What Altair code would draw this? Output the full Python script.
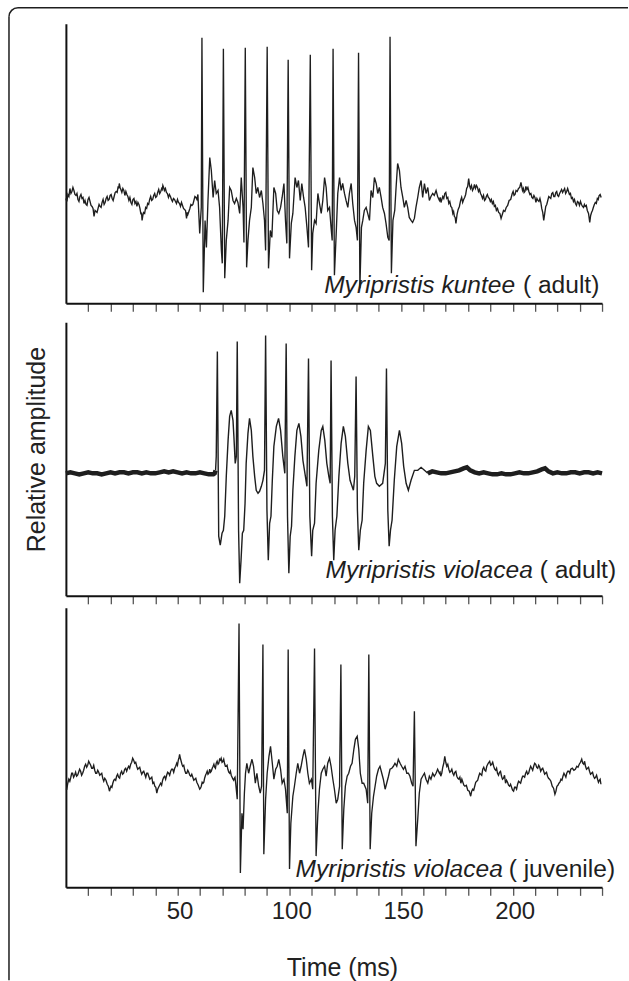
import altair as alt
import pandas as pd

FONT = "Liberation Sans"
INK = "#1e1e1e"

# ---------------- data (time in ms, relative amplitude) ----------------
kuntee_trace = [
    (0.0, 2), (0.9, 6), (1.8, 12), (2.7, 9), (3.6, 10), (4.5, 5), (5.4, 1), (6.3, 4), (7.2, 2), (8.1, -3),
    (9.0, -4), (9.9, 1), (10.8, -1), (11.7, -6), (12.6, -16), (13.5, -11), (14.4, -8), (15.3, -6), (16.2, -2),
    (17.1, -4), (18.0, 2), (18.9, 0), (19.8, 5), (20.7, 2), (21.6, 4), (22.5, 9), (23.4, 14), (23.9, 17),
    (24.6, 11), (25.5, 12), (26.4, 5), (27.3, 6), (28.2, 0), (29.1, -2), (30.0, 1), (30.9, -3), (31.8, -6),
    (32.7, -4), (33.6, -14), (34.1, -20), (34.8, -12), (35.7, -7), (36.6, -3), (37.5, 1), (38.4, 0), (39.3, 5),
    (40.2, 3), (41.1, 8), (42.0, 7), (42.9, 12), (43.4, 15), (44.1, 10), (45.0, 8), (45.9, 3), (46.8, 4),
    (47.7, -1), (48.6, 1), (49.5, -3), (50.4, -2), (51.3, -6), (52.2, -5), (53.1, -9), (54.0, -18), (54.6, -14),
    (55.5, -8), (56.4, -5), (57.3, 0), (58.2, 3), (59.1, 6),
    (59.9, -33), (60.6, -7), (60.9, 163), (61.5, -92), (62.3, -20), (62.9, -47), (63.6, 0), (64.4, 43), (65.1, 30),
    (65.9, 3), (66.6, 20), (67.3, 7), (68.1, 10), (68.8, -7), (69.6, -50), (70.0, -63), (70.5, 152), (71.1, -78),
    (71.8, -40), (72.6, -20), (73.3, 13), (74.0, 10), (74.8, 0), (75.5, -3), (76.3, 2), (77.0, -2), (77.8, -13),
    (78.5, 23), (79.3, -7), (79.7, -42), (80.3, 153), (80.9, -67), (81.5, -40), (82.2, -20), (83.0, -7), (83.7, 33),
    (84.5, 23), (85.2, 7), (85.9, 13), (86.7, 3), (87.5, 10), (88.2, -3), (88.9, -20), (89.4, -50), (90.1, 154),
    (90.7, -68), (91.5, -30), (92.2, -37), (93.1, 13), (93.9, 7), (94.6, -10), (95.3, -13), (96.1, -7), (96.8, 3),
    (97.6, 17), (98.3, -20), (98.9, -43), (99.5, 141), (100.1, -58), (100.9, -23), (101.6, -13), (102.6, 23),
    (103.4, 13), (104.1, 20), (104.9, 0), (105.6, 17), (106.4, 3), (107.1, -7), (107.9, -27), (108.6, -47),
    (109.4, 146), (110.0, -70), (110.5, -33), (111.3, -20), (112.0, -23), (112.8, 7), (113.5, -3), (114.3, -13),
    (115.0, 0), (115.8, 23), (116.5, 13), (117.2, -10), (118.0, -7), (118.7, -27), (119.2, -40), (119.6, 152),
    (120.2, -75), (121.0, -33), (121.7, 7), (122.5, 23), (123.2, 10), (123.9, 17), (124.7, 7), (125.4, 0),
    (126.2, -7), (126.9, 7), (127.7, 17), (128.4, -3), (129.2, -20), (129.9, -27), (130.5, -40), (131.0, 148),
    (131.6, -88), (132.3, -27), (132.9, -20), (133.6, -10), (134.4, -7), (135.1, -13), (135.9, -20), (136.6, 10),
    (137.4, 3), (138.1, 23), (138.9, 17), (139.6, 7), (140.3, 13), (141.1, 3), (141.8, -7), (142.6, -13),
    (143.3, -23), (144.1, -37), (144.7, -40), (145.1, 164), (145.7, -73), (146.4, -20), (147.2, -10), (147.8, 13),
    (148.5, 37), (149.3, 30), (150.0, 13), (150.8, 3), (151.5, -7), (152.3, 0), (153.0, -7), (153.7, -17),
    (154.5, -20), (155.2, -22), (156.0, -18), (156.7, -7), (157.5, 3), (158.2, 13), (159.0, 20), (159.7, 3),
    (160.5, 17), (161.2, 7), (162.0, 13), (162.7, 0), (163.4, 4), (164.2, 7), (164.9, 5), (165.7, 10), (166.4, 4),
    (167.2, 0), (167.9, -2), (168.7, 4), (169.6, 7), (170.5, 2), (171.4, -3), (172.3, -6), (173.2, -13),
    (173.9, -16), (174.6, -23), (175.6, -9), (176.7, 0), (177.6, -2), (178.5, 3), (179.4, 12), (180.3, 22),
    (181.1, 12), (182.0, 10), (182.9, 16), (183.8, 15), (184.7, 9), (185.6, 7), (186.5, 2), (187.4, 0), (188.2, 4),
    (189.1, 3), (190.0, -1), (190.9, -3), (191.8, -6), (192.7, -10), (193.7, -12), (194.8, -18), (195.9, -10),
    (197.1, -7), (198.4, 0), (199.8, 7), (200.6, 5), (201.5, 10), (202.6, 12), (203.7, 18), (204.4, 10),
    (205.1, 8), (205.9, 14), (206.8, 13), (207.7, 6), (208.6, 3), (209.5, 5), (210.4, -2), (211.3, 0), (212.2, 2),
    (213.0, -8), (213.9, -20), (214.8, -6), (215.7, 0), (216.6, 3), (217.5, 7), (218.4, 4), (219.3, 8), (220.1, 5),
    (221.0, 7), (221.9, 11), (222.8, 10), (223.7, 7), (224.6, 12), (225.4, 6), (226.3, 2), (227.2, -1),
    (228.1, -3), (229.0, -1), (229.9, -5), (230.8, -4), (231.7, -7), (232.5, -6), (233.4, -10), (234.5, -22),
    (235.3, -12), (236.1, -7), (237.0, -2), (237.9, 2), (238.7, 5), (239.6, 3),
]
# finer wiggles of the background noise read between the points above
kuntee_wiggle = [
    (0.45, -1), (1.35, 4), (2.25, 7), (3.15, 13), (4.05, 6), (4.95, 7), (5.85, -1), (6.75, 6), (7.65, 3),
    (8.55, 0), (9.45, -5), (10.35, 3), (11.25, -5), (12.15, -8), (13.05, -10), (13.95, -12), (14.85, -4),
    (15.75, -7), (16.65, 1), (17.55, -2), (18.45, 4), (19.35, 1), (20.25, 6), (21.15, 0), (22.05, 8), (22.95, 8),
    (23.65, 12), (24.25, 13), (25.05, 8), (25.95, 10), (26.85, 9), (27.75, 4), (28.65, 3), (29.55, -4),
    (30.45, 2), (31.35, -1), (32.25, -2), (33.15, -8), (33.85, -12), (34.45, -15), (35.25, -13), (36.15, -8),
    (37.05, -4), (37.95, 4), (38.85, 1), (39.75, 7), (40.65, 4), (41.55, 11), (42.45, 9), (43.15, 11),
    (43.75, 13), (44.55, 12), (45.45, 7), (46.35, 6), (47.25, 1), (48.15, 2), (49.05, -1), (49.95, 1),
    (50.85, -3), (51.75, -2), (52.65, -8), (53.55, -10), (54.3, -12), (55.05, -11), (55.95, -4), (56.85, -4),
    (57.75, 4), (58.65, 1),
    (167.55, 3), (168.3, 1), (169.15, 2), (170.05, 8), (170.95, 3), (171.85, -1), (172.75, -7), (173.55, -11),
    (174.25, -17), (175.1, -14), (176.15, -6), (177.15, 3), (178.05, 1), (178.95, 6), (179.85, 14), (180.7, 15),
    (181.55, 15), (182.45, 12), (183.35, 12), (184.25, 13), (185.15, 11), (186.05, 5), (186.95, 5), (187.8, 1),
    (188.65, 6), (189.55, 2), (190.45, 1), (191.35, -1), (192.25, -5), (193.2, -8), (194.25, -13), (195.35, -14),
    (196.5, -11), (197.75, -5), (199.1, 1), (200.2, 9), (201.05, 6), (202.05, 9), (203.15, 13), (204.05, 14),
    (204.75, 12), (205.5, 9), (206.35, 11), (207.25, 9), (208.15, 7), (209.05, 2), (209.95, 3), (210.85, 2),
    (211.75, -1), (212.6, -2), (213.45, -12), (214.35, -13), (215.25, -4), (216.15, 4), (217.05, 2), (217.95, 8),
    (218.85, 4), (219.7, 9), (220.55, 4), (221.45, 9), (222.35, 8), (223.25, 12), (224.15, 9), (225.0, 9),
    (225.85, 7), (226.75, 3), (227.65, 1), (228.55, -5), (229.45, -2), (230.35, -1), (231.25, -6), (232.1, -4),
    (232.95, -5), (233.95, -13), (234.9, -15), (235.7, -10), (236.55, -4), (237.45, -3), (238.3, 1), (239.15, 6),
]

violacea_pre = [
    (0, 0), (2, 1), (4, 0), (6, -1), (8, 0), (10, 1), (12, 0), (14, 0), (16, -1), (18, 0), (20, 1), (22, 0),
    (24, 1), (26, 1), (28, 0), (30, 1), (32, 1), (34, 0), (36, 1), (38, 0), (40, 0), (42, 1), (44, 2), (46, 1),
    (48, 2), (50, 1), (52, 0), (54, 1), (56, 0), (58, 0), (60, 1), (62, 0), (64, -1), (66, -1), (66.6, 0),
    (67.0, 3),
]
violacea_burst = [
    (67.0, 3), (67.3, 17), (67.8, 122), (68.4, -63), (69.1, -72), (69.9, -60), (70.5, -57), (71.1, -43),
    (71.8, -3), (72.6, 33), (73.3, 57), (74.0, 63), (74.8, 53), (75.2, 37), (75.8, 10), (76.3, 17), (76.7, 132),
    (77.3, -57), (77.8, -110), (78.4, -87), (79.0, -60), (79.6, -57), (80.2, -30), (80.7, 10), (81.5, 40),
    (82.2, 55), (83.0, 43), (83.7, 17), (84.5, -3), (85.2, -17), (86.0, -20), (86.7, -18), (87.5, -13), (88.2, -7),
    (88.9, 3), (89.4, 138), (90.0, -37), (90.6, -87), (91.2, -50), (91.8, -43), (92.4, -7), (93.1, 27), (94.2, 47),
    (95.2, 55), (96.1, 43), (97.1, 17), (98.0, 0), (98.6, 130), (99.2, -43), (99.8, -100), (100.4, -63),
    (101.0, -53), (101.6, -17), (102.5, 17), (103.4, 43), (104.3, 50), (105.2, 37), (106.1, 13), (107.0, 0),
    (107.9, -13), (108.6, 115), (109.2, -43), (110.0, -83), (110.5, -57), (111.3, -50), (112.0, -10), (113.2, 23),
    (114.3, 43), (115.0, 47), (115.9, 33), (116.8, 10), (117.7, -3), (118.3, -10), (118.7, 113), (119.3, -43),
    (119.9, -87), (120.5, -57), (121.3, -43), (122.2, -3), (123.2, 30), (124.2, 47), (125.1, 37), (126.2, 10),
    (127.2, -7), (128.1, -13), (128.7, -17), (129.3, -3), (129.9, 97), (130.5, -37), (131.1, -77), (131.8, -57),
    (132.6, -47), (133.3, -10), (134.4, 23), (135.4, 47), (136.3, 43), (137.4, 17), (138.3, -3), (139.1, -10),
    (140.3, -13), (141.8, -10), (143.0, 10), (143.5, 105), (144.1, -37), (144.7, -73), (145.3, -57), (146.0, -47),
    (147.0, -7), (148.1, 27), (149.3, 43), (150.3, 30), (151.2, 7), (152.3, -10), (153.3, -17), (154.5, -7),
    (156.0, 3), (157.5, 3), (159.0, 6), (160.5, 3), (162.0, 0),
]
violacea_post = [
    (162.0, 0), (164, 2), (166, 1), (168, 0), (170, 0), (172, 1), (174, 2),
    (176, 3), (178, 5), (179.5, 6), (181, 3), (183, 1), (185, 0), (187, 1), (189, 0), (191, -1), (193, -1),
    (195, 0), (197, -1), (199, -1), (201, 0), (203, 1), (205, 0), (207, 0), (209, 1), (211, 2), (213, 4),
    (214.5, 5), (216, 2), (218, 0), (220, 1), (222, 0), (224, 0), (226, 1), (228, 1), (230, 0), (232, 1),
    (234, 1), (236, 0), (238, 1), (240, 0),
]

juvenile_trace = [
    (0.0, -13), (0.4, -13), (1.3, -3), (2.2, -1), (3.0, 3), (3.9, 1), (4.8, 0), (5.7, 4), (6.6, 5), (7.5, 3),
    (8.4, 10), (9.3, 9), (10.2, 15), (11.1, 11), (12.0, 8), (12.9, 6), (13.8, 3), (14.7, 4), (15.6, 2),
    (16.5, -2), (17.4, -2), (18.5, -8), (19.5, -15), (20.2, -10), (21.0, -7), (21.9, -3), (22.7, 0), (23.6, -1),
    (24.5, 3), (25.4, 2), (26.3, 7), (27.2, 5), (28.1, 10), (29.0, 12), (29.9, 18), (30.8, 13), (31.7, 10),
    (32.6, 8), (33.5, 5), (34.4, 4), (35.3, 2), (36.2, 3), (37.1, 0), (38.0, -2), (38.9, -7), (39.8, -10),
    (40.7, -17), (41.5, -11), (42.4, -7), (43.3, -4), (44.2, 0), (45.1, 1), (46.0, 3), (46.9, 5), (47.8, 7),
    (48.7, 8), (49.6, 13), (50.3, 16), (50.9, 22), (51.6, 15), (52.3, 10), (53.2, 6), (54.1, 3), (55.0, 4),
    (55.9, 0), (56.8, -1), (57.7, -3), (58.6, -6), (59.9, -13), (60.6, -10), (61.4, -7), (62.1, -2), (62.9, 3),
    (63.6, 2), (64.4, 7), (65.1, 5), (65.9, 10), (66.6, 9), (67.3, 13), (68.1, 12), (68.8, 17), (69.5, 18),
    (70.3, 15), (71.0, 13), (71.8, 10), (72.5, 7), (73.3, 3), (74.0, 1), (74.8, -3), (75.4, -2), (76.0, -7),
    (76.7, -23), (77.5, 153), (78.1, -97), (78.8, -37), (79.3, -53), (79.9, -17), (80.4, 3), (81.0, 13),
    (81.8, 3), (82.5, 10), (83.3, 17), (84.0, 10), (84.8, -7), (85.5, 3), (86.3, -10), (87.0, -17), (87.6, -10),
    (88.2, 132), (88.6, -78), (89.4, -23), (90.1, 3), (90.9, 20), (91.6, 30), (92.4, 13), (93.1, -3), (93.9, 7),
    (94.6, 10), (95.3, 17), (96.1, 7), (96.8, -7), (97.6, -3), (98.3, -13), (99.1, -37), (99.5, 127),
    (100.1, -93), (100.7, -47), (101.6, -20), (102.3, -10), (103.1, 3), (103.8, 13), (104.6, 3), (105.3, 10),
    (106.1, 20), (106.8, 27), (107.6, 17), (108.3, 3), (109.0, -7), (109.9, -3), (110.5, -13), (111.3, 128),
    (112.0, -80), (112.8, -37), (113.5, -13), (114.3, 3), (115.0, 7), (115.8, 10), (116.5, 0), (117.2, 13),
    (118.0, 18), (118.7, 10), (119.5, -3), (120.2, -13), (121.0, -27), (121.7, -23), (122.5, -10), (123.1, 112),
    (123.7, -73), (124.4, -33), (125.1, -10), (125.9, 0), (126.6, 3), (127.4, 10), (128.1, 13), (128.9, 27),
    (129.6, 37), (130.4, 40), (131.1, 27), (131.8, 3), (132.6, -7), (133.3, -7), (134.4, -13), (135.1, -27),
    (135.6, 122), (136.2, -73), (136.9, -37), (137.7, -20), (138.4, -10), (139.1, 0), (139.9, 7), (140.6, 10),
    (141.4, 3), (142.1, -3), (142.9, -13), (143.6, -7), (144.4, 0), (145.1, 7), (145.9, 8), (146.6, 10),
    (147.3, 13), (148.1, 10), (148.8, 17), (149.6, 13), (150.3, 10), (151.1, 7), (151.8, 10), (152.6, 3),
    (153.3, 3), (154.0, 0), (154.8, -7), (155.4, -10), (156.0, 65), (156.7, -70), (157.5, -43), (158.2, -17),
    (159.0, -3), (159.7, 0), (160.5, 3), (161.2, -3), (162.0, -7), (162.7, 0), (163.4, -3), (164.2, 3),
    (164.9, 0), (165.7, 3), (166.4, 7), (167.2, 3), (167.8, 0), (168.7, 9), (169.6, 20), (170.5, 10), (171.4, 7),
    (172.3, 5), (173.2, 3), (174.1, 4), (175.0, 0), (175.9, -3), (176.8, -7), (177.7, -6), (178.6, -10),
    (179.9, -14), (181.2, -20), (182.1, -13), (183.0, -10), (183.9, -5), (184.8, 0), (185.7, 2), (186.6, 7),
    (187.5, 6), (188.4, 10), (189.7, 15), (190.6, 12), (191.5, 10), (192.4, 6), (193.2, 3), (194.1, 4),
    (195.0, 0), (195.9, -2), (196.8, -7), (197.7, -6), (198.6, -10), (199.5, -11), (200.4, -15), (201.3, -11),
    (202.2, -8), (203.1, -6), (204.0, -3), (204.9, 0), (205.8, 3), (206.7, 2), (207.6, 7), (208.5, 8), (209.4, 10),
    (210.3, 12), (211.2, 8), (212.1, 9), (213.0, 7), (213.9, 5), (214.7, 3), (215.6, 0), (216.5, -3),
    (217.7, -10), (218.9, -18), (219.8, -10), (220.7, -7), (221.6, -3), (222.5, 0), (223.4, 1), (224.2, 3),
    (225.1, 5), (226.0, 7), (227.4, 6), (228.7, 10), (229.8, 12), (230.9, 17), (231.8, 12), (232.6, 10),
    (233.5, 8), (234.4, 5), (235.3, 3), (236.2, 0), (237.1, -1), (238.0, -3), (238.8, -4), (239.5, -8),
]
juvenile_wiggle = [
    (0.85, -7), (1.75, -5), (2.6, 3), (3.45, -1), (4.35, 4), (5.25, 1), (6.15, 7), (7.05, 1), (7.95, 6),
    (8.85, 12), (9.75, 11), (10.65, 13), (11.55, 8), (12.45, 11), (13.35, 3), (14.25, 6), (15.15, 1), (16.05, 3),
    (16.95, -5), (17.95, -4), (19.0, -10), (19.85, -12), (20.6, -11), (21.45, -4), (22.3, -4), (23.15, 2),
    (24.05, -2), (24.95, 5), (25.85, 3), (26.75, 8), (27.65, 8), (28.55, 8), (29.45, 14), (30.35, 16),
    (31.25, 14), (32.15, 7), (33.05, 9), (33.95, 2), (34.85, 5), (35.75, -1), (36.65, 3), (37.55, -3),
    (38.45, -1), (39.35, -6), (40.25, -11), (41.1, -13), (41.95, -9), (42.85, -9), (43.75, -1), (44.65, -3),
    (45.55, 4), (46.45, 1), (47.35, 7), (48.25, 4), (49.15, 10), (49.95, 11), (50.6, 18), (51.25, 18),
    (51.95, 12), (52.75, 11), (53.65, 3), (54.55, 6), (55.45, 1), (56.35, 2), (57.25, -4), (58.15, -2),
    (59.25, -9), (60.25, -12), (61.0, -6), (61.75, -6), (62.5, 1), (63.25, 5), (64.0, 3), (64.75, 4), (65.5, 8),
    (66.25, 12), (66.95, 8), (67.7, 15), (68.45, 13), (69.15, 16), (69.9, 14), (70.65, 17), (71.4, 10),
    (72.15, 11), (72.9, 4), (73.65, 5), (74.4, -1), (75.1, -4), (75.7, -1),
    (167.5, 4), (168.25, 3), (169.15, 13), (170.05, 14), (170.95, 12), (171.85, 4), (172.75, 7), (173.65, 1),
    (174.55, 5), (175.45, -2), (176.35, -1), (177.25, -3), (178.15, -9), (179.25, -9), (180.55, -15),
    (181.65, -15), (182.55, -14), (183.45, -6), (184.35, -4), (185.25, 3), (186.15, 1), (187.05, 9), (187.95, 5),
    (189.05, 13), (190.15, 11), (191.05, 14), (191.95, 7), (192.8, 8), (193.65, 1), (194.55, 5), (195.45, -3),
    (196.35, 1), (197.25, -4), (198.15, -9), (199.05, -8), (199.95, -14), (200.85, -11), (201.75, -13),
    (202.65, -5), (203.55, -7), (204.45, 0), (205.35, -1), (206.25, 5), (207.15, 3), (208.05, 10), (208.95, 6),
    (209.85, 13), (210.75, 9), (211.65, 11), (212.55, 5), (213.45, 8), (214.3, 2), (215.15, 4), (216.05, -2),
    (217.1, -5), (218.3, -12), (219.35, -15), (220.25, -9), (221.15, -6), (222.05, -4), (222.95, 3), (223.8, -1),
    (224.65, 5), (225.55, 3), (226.7, 8), (228.05, 7), (229.25, 9), (230.35, 14), (231.35, 13), (232.2, 15),
    (233.05, 7), (233.95, 9), (234.85, 2), (235.75, 4), (236.65, -2), (237.55, 1), (238.4, -6), (239.15, -3),
]

species = ["Myripristis kuntee", "Myripristis violacea", "Myripristis violacea"]
stages = ["( adult)", "( adult)", "( juvenile)"]
tick_ms = list(range(10, 250, 10))
labelled_ms = [50, 100, 150, 200]
x_title = "Time (ms)"
y_title = "Relative amplitude"

# ---------------- frames ----------------
df1 = pd.DataFrame(kuntee_trace + kuntee_wiggle, columns=["t", "a"]).sort_values("t")
df2_pre = pd.DataFrame(violacea_pre, columns=["t", "a"])
df2_burst = pd.DataFrame(violacea_burst, columns=["t", "a"])
df2_post = pd.DataFrame(violacea_post, columns=["t", "a"])
df3 = pd.DataFrame(juvenile_trace + juvenile_wiggle, columns=["t", "a"]).sort_values("t")

one_row = pd.DataFrame({"k": [0]})


def x_enc(with_labels):
    common = dict(values=tick_ms, tickCount=len(tick_ms), grid=False, domainColor="#111111", domainWidth=2,
                  tickColor="#555555", tickWidth=1.3, tickSize=8, labelOverlap=False, labelFlush=False)
    if with_labels:
        axis = alt.Axis(labels=True,
                        labelExpr=f"indexof({labelled_ms}, datum.value) >= 0 ? datum.label : ''",
                        labelFont=FONT, labelFontSize=24, labelColor="#222222", labelPadding=4, labelOffset=2,
                        title=x_title, titleFont=FONT, titleFontSize=25, titleFontWeight="normal",
                        titleColor="#222222", titleX=276.5, titleY=88.5, titleBaseline="alphabetic",
                        titleAlign="center", **common)
    else:
        axis = alt.Axis(labels=False, title=None, **common)
    return alt.X("t:Q", scale=alt.Scale(domain=[0, 240], nice=False, zero=False), axis=axis)


def y_enc(domain, with_title=False):
    common = dict(ticks=False, labels=False, grid=False, domainColor="#111111", domainWidth=2, minExtent=0)
    if with_title:
        axis = alt.Axis(title=y_title, titleFont=FONT, titleFontSize=25, titleFontWeight="normal",
                        titleColor="#222222", titleX=-29, titleY=127, titleAngle=270,
                        titleBaseline="middle", titleAlign="center", **common)
    else:
        axis = alt.Axis(title=None, **common)
    return alt.Y("a:Q", scale=alt.Scale(domain=domain, nice=False, zero=False), axis=axis)


def annotation(i, t_italic_end, t_upright_start, a_base):
    src = pd.DataFrame({"species": [species[i]], "stage": [stages[i]]})
    style = dict(baseline="alphabetic", font=FONT, fontSize=24.6, color=INK)
    ital = alt.Chart(src).mark_text(align="right", fontStyle="italic", **style).encode(
        x=alt.datum(t_italic_end), y=alt.datum(a_base), text="species:N")
    up = alt.Chart(src).mark_text(align="left", **style).encode(
        x=alt.datum(t_upright_start), y=alt.datum(a_base), text="stage:N")
    return ital, up


# panel 1
line1 = alt.Chart(df1).mark_line(color=INK, strokeWidth=1.35).encode(
    x=x_enc(False), y=y_enc([-103, 177]))
frame_left = alt.Chart(one_row).mark_rule(color=INK, strokeWidth=1.5).encode(
    x=alt.value(-57), y=alt.value(-7), y2=alt.value(958))
frame_top = alt.Chart(one_row).mark_rule(color=INK, strokeWidth=1.5).encode(
    x=alt.value(-48), x2=alt.value(563), y=alt.value(-16))
frame_corner = alt.Chart(one_row).mark_arc(color=INK, radius=9.75, radius2=8.25,
                                           theta=4.7124, theta2=6.2832).encode(
    x=alt.value(-48), y=alt.value(-7))
a1i, a1u = annotation(0, 201.1, 204.6, -93)
p1 = alt.layer(line1, a1i, a1u, frame_left, frame_top, frame_corner).properties(width=537, height=280)

# panel 2
y2 = y_enc([-122.7, 151.3], with_title=True)
line2a = alt.Chart(df2_pre).mark_line(color=INK, strokeWidth=4.5).encode(x=x_enc(False), y=y2)
line2b = alt.Chart(df2_burst).mark_line(color=INK, strokeWidth=1.4).encode(x=x_enc(False), y=y2)
line2c = alt.Chart(df2_post).mark_line(color=INK, strokeWidth=4.5).encode(x=x_enc(False), y=y2)
a2i, a2u = annotation(1, 209.0, 212.1, -104.7)
p2 = alt.layer(line2a, line2b, line2c, a2i, a2u).properties(width=537, height=274)

# panel 3
line3 = alt.Chart(df3).mark_line(color=INK, strokeWidth=1.35).encode(
    x=x_enc(True), y=y_enc([-111.3, 168.7]))
a3i, a3u = annotation(2, 195.6, 198.2, -101.3)
p3 = alt.layer(line3, a3i, a3u).properties(width=537, height=280)

lower = alt.vconcat(p2, p3, spacing=12, bounds="flush").resolve_scale(x="independent", y="independent")
chart = alt.vconcat(p1, lower, spacing=19, bounds="flush").resolve_scale(
    x="independent", y="independent").properties(
    padding={"left": 8, "top": 6, "right": 0, "bottom": 0}, background="white"
).configure(font=FONT).configure_view(strokeWidth=0, stroke="transparent")

chart.save("out.html", embed_options={"renderer": "svg", "actions": False})
